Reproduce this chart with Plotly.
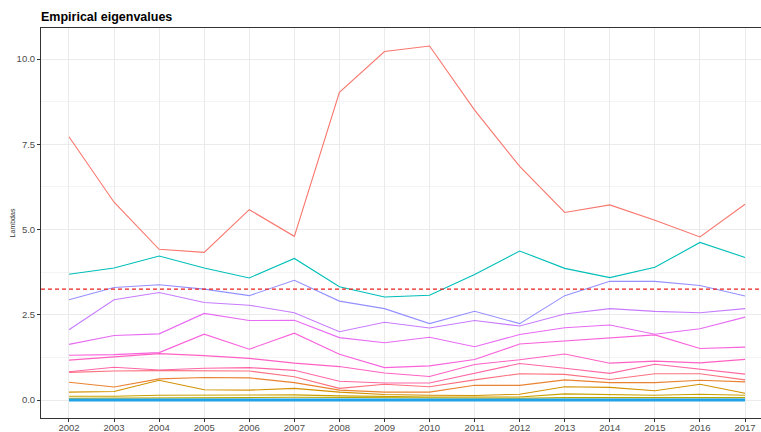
import plotly.graph_objects as go

years = [2002, 2003, 2004, 2005, 2006, 2007, 2008, 2009, 2010, 2011, 2012, 2013, 2014, 2015, 2016, 2017]
year_labels = [str(y) for y in years]

lam1 = [7.72, 5.80, 4.42, 4.33, 5.58, 4.80, 9.02, 10.22, 10.38, 8.50, 6.85, 5.50, 5.72, 5.27, 4.78, 5.74]
lam2 = [3.69, 3.87, 4.22, 3.87, 3.58, 4.15, 3.32, 3.02, 3.07, 3.68, 4.37, 3.86, 3.59, 3.89, 4.62, 4.18]
lam3 = [2.94, 3.30, 3.38, 3.25, 3.06, 3.51, 2.90, 2.68, 2.24, 2.60, 2.24, 3.06, 3.48, 3.48, 3.36, 3.05]
lam4 = [2.06, 2.94, 3.15, 2.86, 2.78, 2.56, 2.00, 2.28, 2.11, 2.33, 2.17, 2.52, 2.68, 2.60, 2.56, 2.68]
lam5 = [1.63, 1.89, 1.94, 2.54, 2.33, 2.34, 1.83, 1.68, 1.84, 1.56, 1.92, 2.12, 2.20, 1.93, 2.09, 2.43]
lam6 = [1.31, 1.33, 1.39, 1.93, 1.49, 1.96, 1.34, 0.95, 1.00, 1.19, 1.64, 1.73, 1.82, 1.91, 1.51, 1.55]
lam7 = [1.17, 1.27, 1.36, 1.30, 1.22, 1.08, 0.98, 0.79, 0.69, 1.04, 1.18, 1.35, 1.08, 1.14, 1.09, 1.19]
lam8 = [0.83, 0.96, 0.88, 0.93, 0.95, 0.87, 0.55, 0.50, 0.50, 0.78, 1.07, 0.93, 0.78, 1.05, 0.90, 0.76]
lam9 = [0.81, 0.85, 0.86, 0.85, 0.85, 0.68, 0.34, 0.46, 0.39, 0.59, 0.77, 0.75, 0.60, 0.77, 0.77, 0.59]
lam10 = [0.52, 0.38, 0.62, 0.66, 0.65, 0.51, 0.29, 0.23, 0.23, 0.43, 0.43, 0.59, 0.51, 0.51, 0.58, 0.53]
lam11 = [0.23, 0.25, 0.58, 0.30, 0.29, 0.34, 0.23, 0.16, 0.14, 0.13, 0.17, 0.39, 0.37, 0.27, 0.46, 0.20]
lam12 = [0.11, 0.11, 0.14, 0.14, 0.16, 0.15, 0.12, 0.10, 0.09, 0.09, 0.09, 0.18, 0.16, 0.14, 0.17, 0.14]
lam13 = [0.05, 0.05, 0.06, 0.06, 0.07, 0.08, 0.07, 0.06, 0.06, 0.05, 0.05, 0.07, 0.07, 0.08, 0.08, 0.07]
lam_zero = [0.0, 0.0, 0.0, 0.0, 0.0, 0.0, 0.0, 0.0, 0.0, 0.0, 0.0, 0.0, 0.0, 0.0, 0.0, 0.0]
threshold = 3.25

series = [
    ("1", lam1, "#F8766D", 1.1),
    ("10", lam10, "#EA8331", 1.1),
    ("11", lam11, "#D39200", 1.1),
    ("12", lam12, "#C9A000", 1.1),
    ("13", lam13, "#B5A900", 1.1),
    ("14+", lam_zero, "#1FA2E6", 3.0),
    ("2", lam2, "#00BFB8", 1.1),
    ("3", lam3, "#9590FF", 1.1),
    ("4", lam4, "#C77CFF", 1.1),
    ("5", lam5, "#E76BF3", 1.1),
    ("6", lam6, "#FA62DB", 1.1),
    ("7", lam7, "#FF61C3", 1.1),
    ("8", lam8, "#FF67A4", 1.1),
    ("9", lam9, "#FC717F", 1.1),
]

fig = go.Figure()
for name, vals, col, w in series:
    fig.add_trace(go.Scatter(x=years, y=vals, mode="lines", name=name,
                             line=dict(color=col, width=w), showlegend=False))

fig.add_shape(type="line", xref="paper", x0=0, x1=1, yref="y", y0=threshold, y1=threshold,
              line=dict(color="#E8201C", width=1.2, dash="4px,3px"))

axis_font = dict(family="Liberation Sans, Arial, sans-serif", size=9.5, color="#4D4D4D")

fig.update_layout(
    width=761, height=432,
    margin=dict(l=41, r=0, t=28, b=14),
    paper_bgcolor="white", plot_bgcolor="white",
    title=dict(text="<b>Empirical eigenvalues</b>", x=41/761, xanchor="left", y=1-17/432, yanchor="middle",
               font=dict(family="Liberation Sans, Arial, sans-serif", size=12.5, color="black")),
    xaxis=dict(range=[2001.379, 2017.354], tickmode="array", tickvals=years, ticktext=year_labels,
               showgrid=True, gridcolor="#EBEBEB", gridwidth=1, zeroline=False,
               showline=True, linecolor="#333333", linewidth=1, mirror=True,
               ticks="outside", ticklen=3, tickcolor="#333333", tickfont=axis_font, automargin=False,
               ticklabelstandoff=-2),
    yaxis=dict(range=[-0.528, 10.909], tickmode="linear", tick0=0, dtick=2.5, tickformat=".1f",
               showgrid=True, gridcolor="#EBEBEB", gridwidth=1, zeroline=False,
               minor=dict(tickmode="linear", tick0=0, dtick=1.25, showgrid=True, gridcolor="#F4F4F4", gridwidth=0.6),
               showline=True, linecolor="#333333", linewidth=1, mirror=True,
               ticks="outside", ticklen=3, tickcolor="#333333", tickfont=axis_font, automargin=False,
               title=dict(text="Lambdas", standoff=0,
                          font=dict(family="Liberation Sans, Arial, sans-serif", size=7, color="#333333"))),
)

fig.write_html("out.html", config={"displayModeBar": False},
               post_script="document.body.style.margin='0px';document.body.style.overflow='hidden';")
